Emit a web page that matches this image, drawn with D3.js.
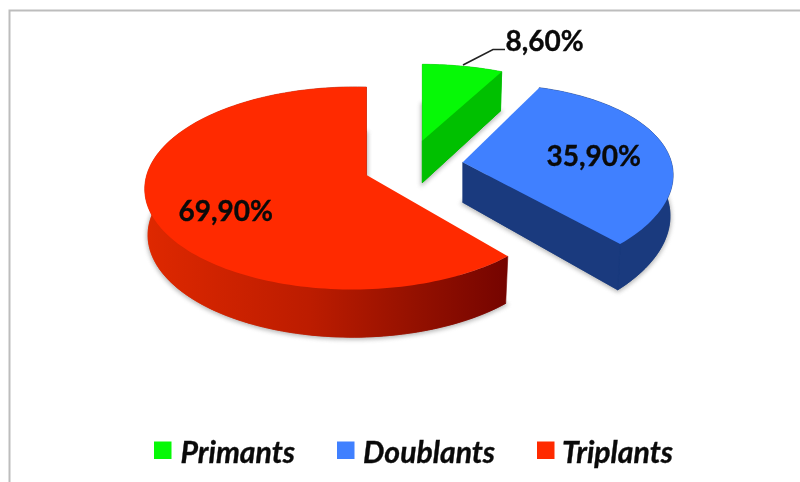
<!DOCTYPE html>
<html>
<head>
<meta charset="utf-8">
<script src="https://cdn.jsdelivr.net/npm/d3@7"></script>
<style>
html,body{margin:0;padding:0;background:#fff;overflow:hidden}
svg{display:block;filter:blur(0.4px)}
text{font-family:Lato,"Open Sans",sans-serif;font-weight:700;fill:#0a0a0a;stroke:#0a0a0a;stroke-width:0.35px}
</style>
</head>
<body>
<svg id="chart" width="800" height="482"></svg>
<script>
const categories = ["Primants", "Doublants", "Triplants"];
const values = [8.6, 35.9, 69.9];
const valueLabels = ["8,60%", "35,90%", "69,90%"];

const topColors = ["#06f906", "#4080ff", "#ff2a00"];
const sideColors = ["#00c000", "#1a3a7e", "url(#redSide)"];
const shadowColor = "#8a8a8a";

// Each exploded slice has its own perspective fit of the disc onto the page.
const views = [
  {ox: 422.3, oy: 140.7, a: 205.6, b: 0.7,  B: 91.7, g: 0,     h: 0.2,  d0: 42, d1: 0.04},
  {ox: 462.7, oy: 162.3, a: 199,   b: -9.2, B: 94.4, g: -0.03, h: 0.22, d0: 40, d1: 0.07},
  {ox: 366.5, oy: 175,   a: 206.6, b: 0,    B: 99.4, g: 0.06,  h: 0.13, d0: 46, d1: 0.015}
];
const labelPos = [[505.5, 51], [546.5, 166], [178.5, 221]];
const legendSwatchX = [154, 337, 537];
const legendTextX = [180.5, 363, 562];

const svg = d3.select("#chart");
const defs = svg.append("defs");
const grad = defs.append("linearGradient").attr("id", "redSide")
  .attr("gradientUnits", "userSpaceOnUse")
  .attr("x1", 148).attr("x2", 508).attr("y1", 0).attr("y2", 0);
[[0, "#de2800"], [0.45, "#bc1c00"], [0.75, "#931000"], [1, "#750400"]].forEach(s =>
  grad.append("stop").attr("offset", s[0]).attr("stop-color", s[1]));
defs.append("filter").attr("id", "soft").attr("x", "-20%").attr("y", "-20%").attr("width", "140%").attr("height", "140%")
  .append("feGaussianBlur").attr("stdDeviation", 2);

// frame
svg.append("path").attr("d", d3.line()([[9.5, 482], [9.5, 10.5], [800, 10.5]]))
  .attr("fill", "none").attr("stroke", "#bdbdbd").attr("stroke-width", 2);

const arcs = d3.pie().sort(null).value(d => d)(values);
const line = d3.line();

function topPoint(v, t) {
  const u = Math.sin(t), c = Math.cos(t);
  const D = 1 + v.g * u + v.h * c;
  return [v.ox + v.a * u / D, v.oy + (v.b * u - v.B * c) / D];
}
function lower(v, p) {
  const X = p[0] - v.ox, Y = p[1] - v.oy;
  return [v.ox + X * 0.985, v.oy + Y + v.d0 + v.d1 * Y];
}
function rim(v, a) {
  const n = Math.ceil((a.endAngle - a.startAngle) * 40);
  return d3.range(n + 1).map(i => topPoint(v, a.startAngle + (a.endAngle - a.startAngle) * i / n));
}

const shadowLayer = svg.append("g");
const sliceLayer = svg.append("g");

arcs.forEach((a, i) => {
  const v = views[i];
  const top = rim(v, a);
  const apex = [v.ox, v.oy];
  const topFace = [apex, ...top];
  const botFace = topFace.map(p => lower(v, p));
  shadowLayer.append("path").attr("d", line(botFace) + "Z")
    .attr("fill", shadowColor).attr("stroke", shadowColor).attr("stroke-width", 3)
    .attr("opacity", 0.6).attr("filter", "url(#soft)").attr("transform", "translate(0,1)");
});

// red first, then blue, then green: the nearer pieces lie on top
[2, 1, 0].forEach(i => {
  const a = arcs[i], v = views[i];
  const top = rim(v, a);
  const apex = [v.ox, v.oy];
  const topFace = [apex, ...top];
  const botFace = topFace.map(p => lower(v, p));
  const g = sliceLayer.append("g");
  const side = d => g.append("path").attr("d", line(d) + "Z")
    .attr("fill", sideColors[i]).attr("stroke", sideColors[i]).attr("stroke-width", 0.6);
  side(botFace);
  side([...top, ...top.map(p => lower(v, p)).reverse()]);
  const last = top[top.length - 1];
  if (i !== 2) side([apex, last, lower(v, last), lower(v, apex)]);
  g.append("path").attr("d", line(topFace) + "Z").attr("fill", topColors[i]);
});

// leader line
svg.append("path").attr("d", line([[463, 65], [493, 49.5], [505, 49.5]]))
  .attr("fill", "none").attr("stroke", "#222").attr("stroke-width", 1.6);

// value labels
svg.append("g").selectAll("text").data(valueLabels).join("text")
  .attr("x", (d, i) => labelPos[i][0]).attr("y", (d, i) => labelPos[i][1])
  .attr("font-size", 28).text(d => d);

// legend
const legend = svg.append("g");
legend.selectAll("rect").data(categories).join("rect")
  .attr("x", (d, i) => legendSwatchX[i]).attr("y", 441.5).attr("width", 17.5).attr("height", 17.5)
  .attr("fill", (d, i) => topColors[i]);
legend.selectAll("text").data(categories).join("text")
  .attr("x", (d, i) => legendTextX[i]).attr("y", 463)
  .attr("font-size", 30.2).attr("font-style", "italic").text(d => d);
</script>
</body>
</html>
